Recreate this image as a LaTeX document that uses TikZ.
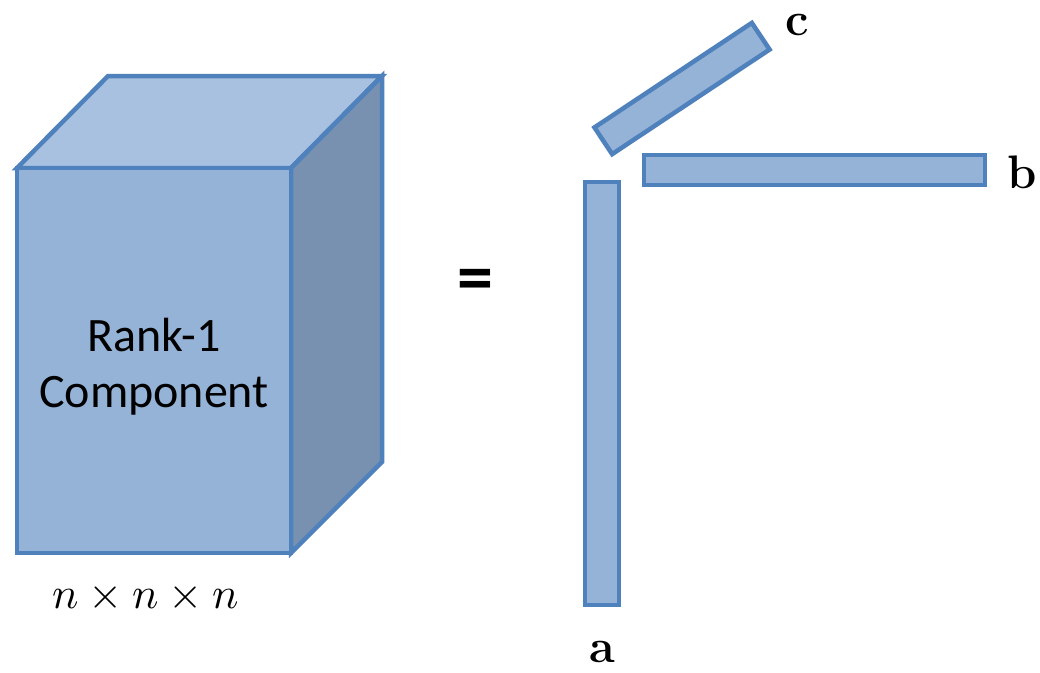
\documentclass[tikz,border=0pt]{standalone}
\usepackage{fontspec}
\usepackage{unicode-math}
\setmathfont{Latin Modern Math}
\newfontfamily\calib{Carlito}
\definecolor{edgeblue}{HTML}{4F81BD}
\definecolor{frontblue}{HTML}{95B3D7}
\definecolor{topblue}{HTML}{A8C1E0}
\definecolor{sideblue}{HTML}{7891B0}
\begin{document}
\begin{tikzpicture}[x=1pt,y=-1pt,line join=miter,
  face/.style={draw=edgeblue,line width=4.5pt},
  bar/.style={draw=edgeblue,line width=4.5pt,fill=frontblue,inner sep=0pt,outer sep=0pt},
  lbl/.style={inner sep=0pt,font=\fontsize{44}{52}\selectfont},
  blbl/.style={inner sep=0pt,font=\fontsize{47}{52}\selectfont}]
\useasboundingbox (0,0) rectangle (1040,672);
% cube
\coordinate (ftl) at (17,168);
\coordinate (ftr) at (291,168);
\coordinate (fbr) at (291,553);
\coordinate (fbl) at (17,553);
\coordinate (btl) at (108,76);
\coordinate (btr) at (382,76);
\coordinate (bbr) at (382,462);
\draw[face,fill=topblue] (ftl) -- (btl) -- (btr) -- (ftr) -- cycle;
\draw[face,fill=sideblue] (ftr) -- (btr) -- (bbr) -- (fbr) -- cycle;
\draw[face,fill=frontblue] (ftl) -- (ftr) -- (fbr) -- (fbl) -- cycle;
\node[inner sep=0pt,align=center,font=\calib\fontsize{48}{56}\selectfont] (txt) at (154,367) {Rank-1\\Component};
\node[lbl] (dim) at (146,598) {$n\times n\times n$};
\node[inner sep=0pt,font=\calib\bfseries\fontsize{72}{80}\selectfont] (eq) at (475,285) {=};
% bars
\node[bar,minimum width=34pt,minimum height=423pt] (a) at (602,393.5) {};
\node[bar,minimum width=341pt,minimum height=30pt] (b) at (814.5,170) {};
\node[bar,minimum width=189pt,minimum height=32pt,rotate=33.6] (c) at (682,88.5) {};
\node[blbl] (la) at (602,652) {$\mathbf{a}$};
\node[blbl] (lb) at (1022,172) {$\mathbf{b}$};
\node[blbl] (lc) at (797,25) {$\mathbf{c}$};
\end{tikzpicture}
\end{document}
